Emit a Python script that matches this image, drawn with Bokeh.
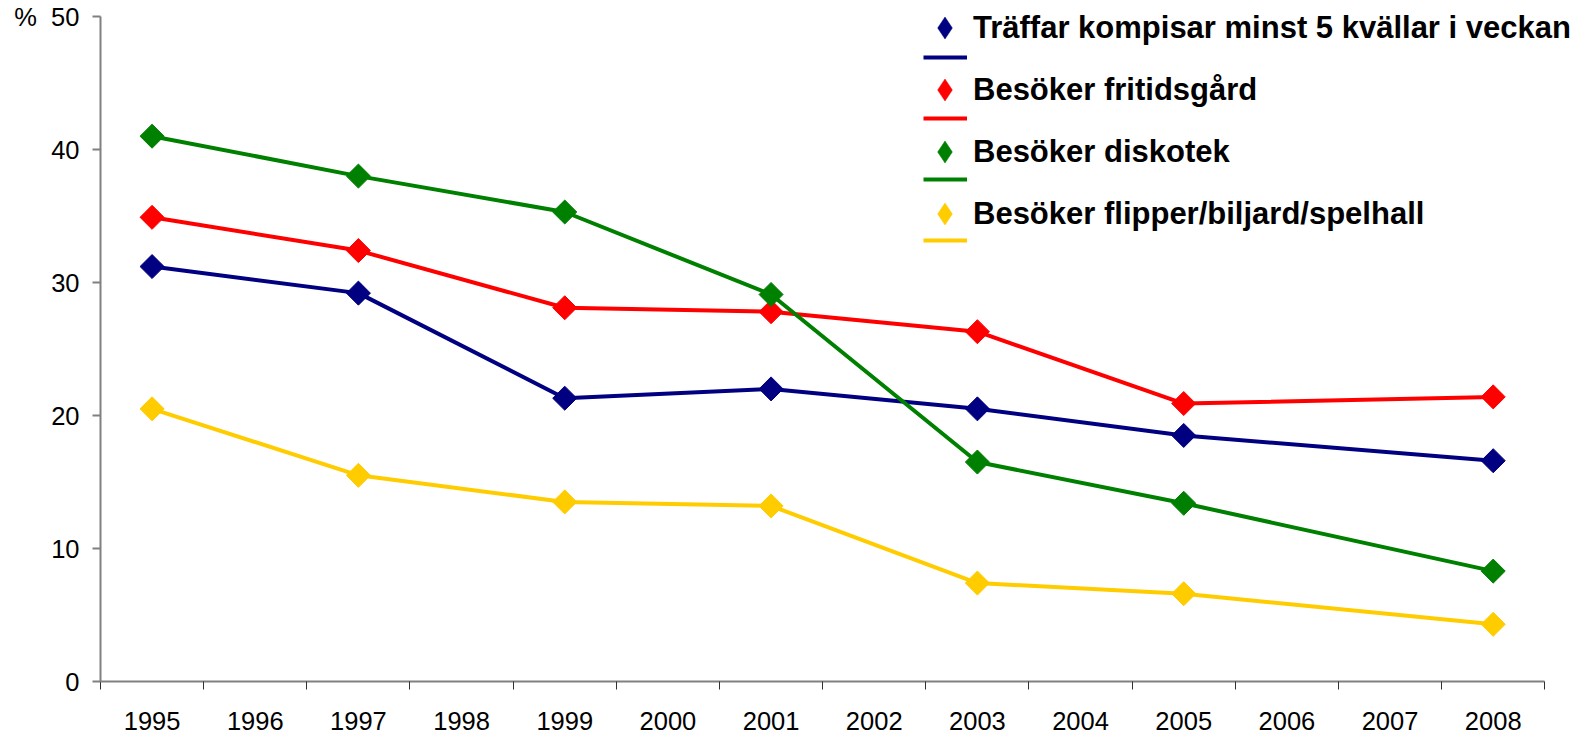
import math
from bokeh.plotting import figure
from bokeh.models import (Range1d, FixedTicker, Legend, LegendItem, ColumnDataSource)
from bokeh.embed import file_html
from bokeh.resources import INLINE

# ---- data ----
all_years = ["1995", "1996", "1997", "1998", "1999", "2000", "2001",
             "2002", "2003", "2004", "2005", "2006", "2007", "2008"]
survey_years = ["1995", "1997", "1999", "2001", "2003", "2005", "2008"]
traffar_kompisar = [31.2, 29.2, 21.3, 22.0, 20.5, 18.5, 16.6]
fritidsgard = [34.9, 32.4, 28.1, 27.8, 26.3, 20.9, 21.4]
diskotek = [41.0, 38.0, 35.3, 29.1, 16.5, 13.4, 8.3]
flipper = [20.5, 15.5, 13.5, 13.2, 7.4, 6.6, 4.3]
series_names = ["Träffar kompisar minst 5 kvällar i veckan", "Besöker fritidsgård",
                "Besöker diskotek", "Besöker flipper/biljard/spelhall"]
series_colors = ["#000080", "#FF0000", "#008000", "#FFCC00"]
y_ticks = [0, 10, 20, 30, 40, 50]
y_unit = "%"

FONT = "Liberation Sans"
NB = "\u00a0"

W, H = 1587, 736
LEFT, BOTTOM = 100, 55
AXIS_RIGHT_PX, AXIS_TOP_PX = 1544.3, 16   # where the category / value axes end
n = len(all_years)
frame_w = W - LEFT
frame_h = H - BOTTOM


def slot_center(year):
    return all_years.index(year) + 0.5


# ranges extended past the axes so the legend (which overhangs the axes) is not clipped
x_end = n * frame_w / (AXIS_RIGHT_PX - LEFT)
y_end = y_ticks[-1] * frame_h / (frame_h - AXIS_TOP_PX)

p = figure(width=W, height=H, output_backend="svg", toolbar_location=None,
           x_range=Range1d(0, x_end), y_range=Range1d(0, y_end),
           min_border_left=LEFT, min_border_right=0, min_border_top=0, min_border_bottom=BOTTOM)
p.outline_line_color = None
p.xgrid.visible = False
p.ygrid.visible = False
p.background_fill_color = "white"
p.border_fill_color = "white"

# y axis
ya = p.yaxis[0]
ya.bounds = (y_ticks[0], y_ticks[-1])
ya.ticker = FixedTicker(ticks=y_ticks, minor_ticks=[])
ya.major_label_overrides = {y_ticks[-1]: y_unit + NB + NB + str(y_ticks[-1])}
ya.axis_line_color = "#808080"
ya.axis_line_width = 2
ya.major_tick_line_color = "#808080"
ya.major_tick_line_width = 2
ya.major_tick_out = 8
ya.major_tick_in = 0
ya.minor_tick_line_color = None
ya.major_label_text_font = FONT
ya.major_label_text_font_size = "25.5px"
ya.major_label_text_color = "black"
ya.major_label_standoff = 13

# x axis: labels at category centres, tick marks at category boundaries
xa = p.xaxis[0]
xa.bounds = (0, n)
xa.ticker = FixedTicker(ticks=[slot_center(y) for y in all_years],
                        minor_ticks=list(range(n + 1)))
xa.major_label_overrides = {slot_center(y): y for y in all_years}
xa.axis_line_color = "#808080"
xa.axis_line_width = 2
xa.major_tick_line_color = None
xa.major_tick_out = 0
xa.major_tick_in = 0
xa.minor_tick_line_color = "#303030"
xa.minor_tick_line_width = 1
xa.minor_tick_out = 8
xa.minor_tick_in = 0
xa.major_label_text_font = FONT
xa.major_label_text_font_size = "25.5px"
xa.major_label_text_color = "black"
xa.major_label_standoff = 22

series_values = [traffar_kompisar, fritidsgard, diskotek, flipper]
line_rs, key_rs = [], []
for vals, col in zip(series_values, series_colors):
    src = ColumnDataSource(dict(x=[slot_center(y) for y in survey_years], y=vals))
    lr = p.line("x", "y", source=src, line_color=col, line_width=4)
    # legend key (diamond); zero size in the plot, sized by the legend box
    kr = p.scatter("x", "y", source=src, marker="diamond", size=0,
                   fill_color=col, line_color=col, line_width=0.5)
    p.scatter("x", "y", source=src, marker="square", angle=math.pi / 4, size=17,
              fill_color=col, line_color=col)
    line_rs.append(lr)
    key_rs.append(kr)

legend_a = Legend(items=[LegendItem(label=nm, renderers=[k]) for nm, k in zip(series_names, key_rs)],
                  location=(817, 440), glyph_width=55, glyph_height=55, label_height=55,
                  spacing=7, label_standoff=1, padding=0, margin=0,
                  border_line_color=None, background_fill_alpha=0,
                  label_text_font=FONT, label_text_font_style="bold",
                  label_text_font_size="31px", label_text_color="black")
legend_b = Legend(items=[LegendItem(label=" ", renderers=[l]) for l in line_rs],
                  location=(823, 423), glyph_width=44, glyph_height=36, label_height=36,
                  spacing=25, label_standoff=0, padding=0, margin=0,
                  border_line_color=None, background_fill_alpha=0,
                  label_text_font=FONT, label_text_font_size="31px")
p.add_layout(legend_a, "center")
p.add_layout(legend_b, "center")

open("out.html", "w").write(file_html(p, INLINE))
